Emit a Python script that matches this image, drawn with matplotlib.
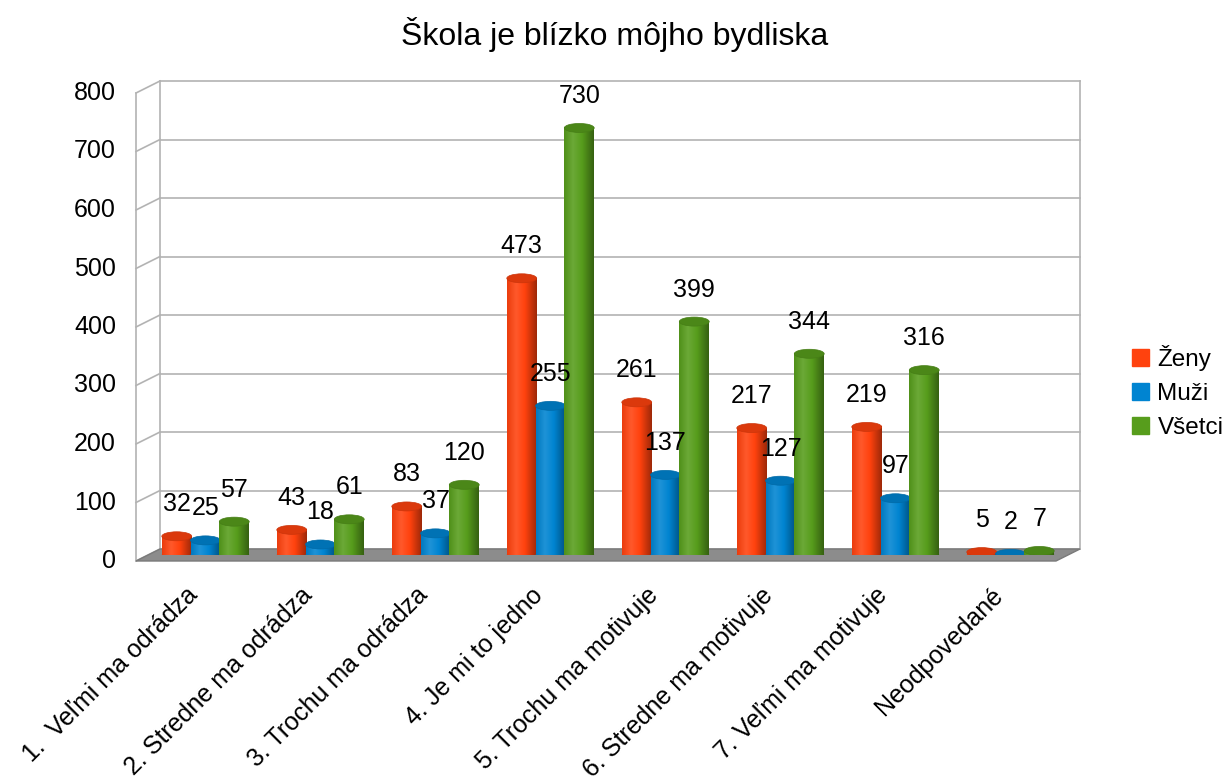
import numpy as np
import matplotlib.pyplot as plt
from matplotlib.patches import Ellipse, Polygon, Patch
from matplotlib.colors import LinearSegmentedColormap, to_rgb
from matplotlib.lines import Line2D
from matplotlib.transforms import offset_copy, IdentityTransform

plt.rcParams['font.family'] = ['Liberation Sans', 'DejaVu Sans']

# ---- data ----
title = 'Škola je blízko môjho bydliska'
categories = ['1.  Veľmi ma odrádza', '2. Stredne ma odrádza', '3. Trochu ma odrádza',
              '4. Je mi to jedno', '5. Trochu ma motivuje', '6. Stredne ma motivuje',
              '7. Veľmi ma motivuje', 'Neodpovedané']
zeny = [32, 43, 83, 473, 261, 217, 219, 5]
muzi = [25, 18, 37, 255, 137, 127, 97, 2]
vsetci = [57, 61, 120, 730, 399, 344, 316, 7]
series_names = ['Ženy', 'Muži', 'Všetci']
series_colors = ['#ff420e', '#0084d1', '#579d1c']
yticks = [0, 100, 200, 300, 400, 500, 600, 700, 800]

W, H = 1229, 780
fig = plt.figure(figsize=(W / 100, H / 100), dpi=100)
ax = fig.add_axes([148 / W, (H - 555) / H, 920 / W, 468 / H])
xmin, xmax = -0.5, len(categories) - 0.5
ymin, ymax = 0, 800
ax.set_xlim(xmin, xmax)
ax.set_ylim(ymin, ymax)
ax.axis('off')

# depth offset in pixels (back wall = +1, front edge = -1)
DX, DY = 12, 6
back_t = offset_copy(ax.transData, fig, x=DX, y=DY, units='dots')
front_t = offset_copy(ax.transData, fig, x=-DX, y=-DY, units='dots')


def P(x, y, d):
    px, py = ax.transData.transform((x, y))
    return (px + d * DX, py + d * DY)


def shade(c, f):
    r, g, b = to_rgb(c)
    return (r * f, g * f, b * f)


def lighten(c, f):
    r, g, b = to_rgb(c)
    return (r + (1 - r) * f, g + (1 - g) * f, b + (1 - b) * f)


grid_c = '#b3b3b3'
idt = IdentityTransform()

# walls
ax.add_patch(Polygon([P(xmin, ymin, 1), P(xmax, ymin, 1), P(xmax, ymax, 1), P(xmin, ymax, 1)],
                     transform=idt, fc='white', ec='none', zorder=0, clip_on=False))
for y in yticks:
    ax.plot([xmin, xmax], [y, y], color=grid_c, lw=1.2, transform=back_t, zorder=1, clip_on=False)
    a, b = P(xmin, y, -1), P(xmin, y, 1)
    ax.add_line(Line2D([a[0], b[0]], [a[1], b[1]], color=grid_c, lw=1.2, transform=idt,
                       zorder=1, clip_on=False))
for x in [xmin, xmax]:
    ax.plot([x, x], [ymin, ymax], color=grid_c, lw=1.2, transform=back_t, zorder=1, clip_on=False)
ax.plot([xmin, xmin], [ymin, ymax], color=grid_c, lw=1.2, transform=front_t, zorder=1, clip_on=False)

# floor
ax.add_patch(Polygon([P(xmin, 0, -1), P(xmax, 0, -1), P(xmax, 0, 1), P(xmin, 0, 1)],
                     transform=idt, fc='#8c8c8c', ec='#7a7a7a', lw=1, zorder=2, clip_on=False))

# cylinders
offsets = [-0.25, 0, 0.25]
bw = 0.26
px_per_unit = 468 / (ymax - ymin)
eh = 9 / px_per_unit
grad = np.linspace(0, 1, 64)[None, :]
for j, (vals, c) in enumerate(zip([zeny, muzi, vsetci], series_colors)):
    cmap = LinearSegmentedColormap.from_list(
        'c%d' % j, [(0, shade(c, 0.92)), (0.3, lighten(c, 0.12)), (0.6, to_rgb(c)), (1, shade(c, 0.62))])
    for i, v in enumerate(vals):
        x = i + offsets[j]
        z = 3 + i * 3 + j
        ax.add_patch(Ellipse((x, 0), bw, eh, fc=shade(c, 0.85), ec='none', zorder=z))
        ax.imshow(grad, cmap=cmap, extent=(x - bw / 2, x + bw / 2, 0, v), aspect='auto',
                  interpolation='bilinear', zorder=z + 0.1)
        ax.add_patch(Ellipse((x, v), bw, eh, fc=shade(c, 0.86), ec=shade(c, 0.8), lw=0.5,
                             zorder=z + 0.2))
        ax.annotate(str(v), xy=(x, v), xytext=(0, 32), textcoords='offset pixels',
                    ha='center', va='center', fontsize=18, zorder=40)

ax.set_xlim(xmin, xmax)
ax.set_ylim(ymin, ymax)

# axis labels
for y in yticks:
    ax.annotate(str(y), xy=(xmin, y), xycoords=front_t, xytext=(-20, 0), textcoords='offset pixels',
                ha='right', va='center', fontsize=18)
for i, cat in enumerate(categories):
    ax.annotate(cat, xy=(i, 0), xycoords=front_t, xytext=(-8, -22), textcoords='offset pixels',
                rotation=45, ha='right', va='top', rotation_mode='anchor', fontsize=18)

fig.text(0.5, 1 - 35 / H, title, ha='center', va='center', fontsize=23)

handles = [Patch(color=c) for c in series_colors]
fig.legend(handles, series_names, loc='center left', bbox_to_anchor=(1110 / W, 1 - 392 / H),
           frameon=False, fontsize=17.5, handlelength=0.7, handleheight=0.7,
           handletextpad=0.35, labelspacing=0.5)

fig.savefig('out.png', dpi=100)
